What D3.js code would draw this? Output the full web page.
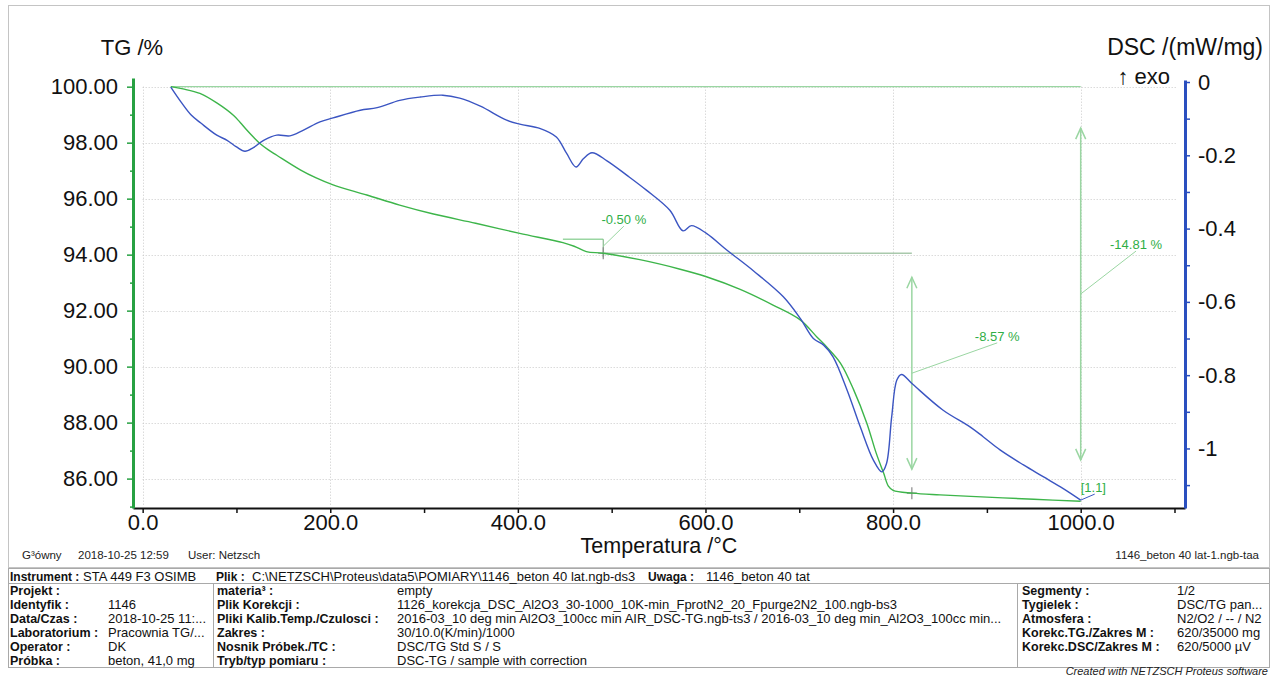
<!DOCTYPE html>
<html>
<head>
<meta charset="utf-8">
<script src="https://cdn.jsdelivr.net/npm/d3@7"></script>
<style>
  html, body { margin: 0; padding: 0; background: #fff; }
  svg { display: block; font-family: "Liberation Sans", Arial, sans-serif; }
</style>
</head>
<body>
<svg id="chart" width="1276" height="676"></svg>
<script>
// ---- TG curve (mass, %) ----
const tgTemps  = [30, 43, 61, 79, 97, 104, 111, 118, 125, 134, 143, 168, 185, 203, 239, 274, 310, 355, 402, 448, 460, 473, 491,
                  530, 573, 601, 637, 672, 701, 719, 729, 744, 758, 772, 782, 790, 795, 800, 821, 850, 900, 950, 1000];
const tgValues = [100.00, 99.92, 99.76, 99.42, 98.97, 98.72, 98.45, 98.20, 97.97, 97.74, 97.55, 97.03, 96.74, 96.49, 96.13, 95.77, 95.45, 95.12, 94.76, 94.43, 94.30, 94.11, 94.05,
                  93.82, 93.48, 93.21, 92.76, 92.20, 91.67, 91.05, 90.71, 90.12, 89.17, 87.98, 86.91, 86.19, 85.73, 85.58, 85.48, 85.42, 85.34, 85.26, 85.19];

// ---- DSC curve (mW/mg) ----
const dscTemps  = [30, 41, 52, 62, 79, 90, 100, 109, 118, 129, 143, 157, 171, 189, 203, 232, 250, 274, 296, 320,
                   338, 360, 388, 402, 424, 441, 452, 462, 470, 479, 495, 516, 537, 562, 576, 585, 601, 623, 651, 683,
                   701, 715, 726, 736, 751, 765, 779, 788, 793, 798.5, 804, 809, 821, 853, 882, 896, 914, 939, 960, 981, 1000];
const dscValues = [-0.014, -0.055, -0.091, -0.112, -0.145, -0.159, -0.177, -0.189, -0.179, -0.159, -0.145, -0.147, -0.132, -0.109, -0.098, -0.077, -0.070, -0.050, -0.041, -0.036,
                   -0.044, -0.066, -0.104, -0.115, -0.127, -0.150, -0.195, -0.232, -0.209, -0.193, -0.215, -0.254, -0.295, -0.350, -0.406, -0.392, -0.413, -0.459, -0.515, -0.586,
                   -0.645, -0.700, -0.718, -0.750, -0.841, -0.941, -1.032, -1.064, -1.041, -0.914, -0.813, -0.798, -0.825, -0.895, -0.941, -0.968, -1.004, -1.045, -1.077, -1.109, -1.141];

// ---- axis ticks ----
const tempTicks = [0, 100, 200, 300, 400, 500, 600, 700, 800, 900, 1000, 1100];
const tempGrid  = [0, 200, 400, 600, 800, 1000];
const tgTicks   = [85, 86, 87, 88, 89, 90, 91, 92, 93, 94, 95, 96, 97, 98, 99, 100];
const tgGrid    = [86, 88, 90, 92, 94, 96, 98, 100];
const dscTicks  = [0, -0.1, -0.2, -0.3, -0.4, -0.5, -0.6, -0.7, -0.8, -0.9, -1.0, -1.1];

// ---- mass-loss steps ----
const stepLabels = ["-0.50 %", "-8.57 %", "-14.81 %"];
const stepFrom   = [448, 491, 30];      // start of the reference line, °C
const stepAt     = [491, 820, 1000];    // where the step is evaluated, °C
const stepUpper  = [94.55, 94.05, 100.00];
const stepLower  = [94.05, 85.48, 85.19];
const stepStyle  = ["bracket", "arrow", "arrow"];
const stepLabelPos = [[513, 95.09], [911, 90.92], [1059, 94.20]]; // label anchor (°C, %)

// ---- header / info table ----
const infoRow1 = [["Instrument :", "STA 449 F3 OSIMB", 10, 83], ["Plik :", "C:\\NETZSCH\\Proteus\\data5\\POMIARY\\1146_beton 40 lat.ngb-ds3", 216, 252], ["Uwaga :", "1146_beton 40 tat", 648, 706]];
const infoCol1 = [["Projekt :", ""], ["Identyfik :", "1146"], ["Data/Czas :", "2018-10-25 11:..."], ["Laboratorium :", "Pracownia TG/..."], ["Operator :", "DK"], ["Próbka :", "beton, 41,0 mg"]];
const infoCol2 = [["materia³ :", "empty"], ["Plik Korekcji :", "1126_korekcja_DSC_Al2O3_30-1000_10K-min_FprotN2_20_Fpurge2N2_100.ngb-bs3"],
                  ["Pliki Kalib.Temp./Czulosci :", "2016-03_10 deg min Al2O3_100cc min AIR_DSC-TG.ngb-ts3 / 2016-03_10 deg min_Al2O3_100cc min..."],
                  ["Zakres :", "30/10.0(K/min)/1000"], ["Nosnik Próbek./TC :", "DSC/TG Std S / S"], ["Tryb/typ pomiaru :", "DSC-TG / sample with correction"]];
const infoCol3 = [["Segmenty :", "1/2"], ["Tygielek :", "DSC/TG pan..."], ["Atmosfera :", "N2/O2 / -- / N2"], ["Korekc.TG./Zakres M :", "620/35000 mg"], ["Korekc.DSC/Zakres M :", "620/5000 µV"]];
const footerLeft = [["G³ówny", 22], ["2018-10-25 12:59", 78], ["User: Netzsch", 188]];

const GREEN = "#3db54a", BLUE = "#3b55c2", AXIS_GREEN = "#27a142", AXIS_BLUE = "#2a4fbf";
const NOTE_GREEN = "#2fae46", PALE_GREEN = "#9ad6a2";

const svg = d3.select("#chart");
svg.append("rect").attr("width", 1276).attr("height", 676).attr("fill", "#fff");

// outer frame of the plot page
svg.append("rect").attr("x", 8.5).attr("y", 5.5).attr("width", 1261).attr("height", 562)
  .attr("fill", "none").attr("stroke", "#c4c4c4");

const x = d3.scaleLinear().domain([-10.3, 1111.2]).range([133, 1185]);
const yTG = d3.scaleLinear().domain([84.95, 100.31]).range([508, 78]);
const yDSC = d3.scaleLinear().domain([-1.1625, 0.0055]).range([508, 80]);

// grid
const grid = svg.append("g").attr("stroke", "#c9c9c9").attr("stroke-dasharray", "1,2").attr("stroke-width", 1);
grid.selectAll("line.h").data(tgGrid).join("line")
  .attr("x1", x(0)).attr("x2", x(1103))
  .attr("y1", d => Math.round(yTG(d)) + 0.5).attr("y2", d => Math.round(yTG(d)) + 0.5);
grid.selectAll("line.v").data(tempGrid).join("line")
  .attr("x1", d => Math.round(x(d)) + 0.5).attr("x2", d => Math.round(x(d)) + 0.5)
  .attr("y1", yTG(100)).attr("y2", 505);

// step reference lines and arrows
const notes = svg.append("g");
function arrowHead(g, px, py, dir) {
  g.append("path")
    .attr("d", `M${px - 5},${py - dir * 11} L${px},${py} L${px + 5},${py - dir * 11}`)
    .attr("fill", "none").attr("stroke", PALE_GREEN).attr("stroke-width", 1.5);
}
function cross(g, px, py) {
  g.append("path").attr("d", `M${px - 5},${py} H${px + 5} M${px},${py - 6} V${py + 6}`)
    .attr("stroke", "#8a8a8a").attr("stroke-width", 1.2);
}
stepLabels.forEach((lab, i) => {
  const xa = x(stepAt[i]);
  notes.append("line")
    .attr("x1", x(stepFrom[i])).attr("x2", xa)
    .attr("y1", yTG(stepUpper[i])).attr("y2", yTG(stepUpper[i]))
    .attr("stroke", i === 1 ? "#a9c9ac" : PALE_GREEN).attr("stroke-width", 1.3);
  if (stepStyle[i] === "bracket") {
    notes.append("line").attr("x1", xa).attr("x2", xa)
      .attr("y1", yTG(stepUpper[i])).attr("y2", yTG(stepLower[i]) + 4)
      .attr("stroke", "#6fae78").attr("stroke-width", 1);
  } else {
    const d = stepUpper[i] - stepLower[i];
    const top = yTG(stepUpper[i] - 0.1 * d), bot = yTG(stepLower[i] + 0.1 * d);
    notes.append("line").attr("x1", xa).attr("x2", xa).attr("y1", top).attr("y2", bot)
      .attr("stroke", PALE_GREEN).attr("stroke-width", 1.5);
    arrowHead(notes, xa, top, -1);
    arrowHead(notes, xa, bot, 1);
  }
  if (i < 2) cross(notes, xa, yTG(stepLower[i]));
  // leader from the middle of the step to the label
  const [lt, lv] = stepLabelPos[i];
  notes.append("line")
    .attr("x1", xa).attr("y1", yTG((stepUpper[i] + stepLower[i]) / 2))
    .attr("x2", x(lt)).attr("y2", yTG(lv) + 2)
    .attr("stroke", PALE_GREEN).attr("stroke-width", 1);
  notes.append("text").attr("x", x(lt)).attr("y", yTG(lv))
    .attr("text-anchor", "middle").attr("font-size", 13).attr("fill", NOTE_GREEN).text(lab);
});

// curves
const tgData = tgTemps.map((t, i) => [t, tgValues[i]]);
const dscData = dscTemps.map((t, i) => [t, dscValues[i]]);
svg.append("path").datum(tgData)
  .attr("d", d3.line().x(d => x(d[0])).y(d => yTG(d[1])).curve(d3.curveCatmullRom.alpha(0.5)))
  .attr("fill", "none").attr("stroke", GREEN).attr("stroke-width", 1.4);
svg.append("path").datum(dscData)
  .attr("d", d3.line().x(d => x(d[0])).y(d => yDSC(d[1])).curve(d3.curveCatmullRom.alpha(0.5)))
  .attr("fill", "none").attr("stroke", BLUE).attr("stroke-width", 1.4);

// end-point marker
const endT = dscTemps[dscTemps.length - 1], endV = dscValues[dscValues.length - 1];
svg.append("line").attr("x1", x(endT)).attr("y1", yDSC(endV))
  .attr("x2", x(endT) + 14).attr("y2", yDSC(endV) - 6)
  .attr("stroke", BLUE).attr("stroke-width", 1);
svg.append("text").attr("x", x(endT)).attr("y", yDSC(endV) - 8)
  .attr("font-size", 13).attr("fill", NOTE_GREEN).text("[1.1]");

// axes
const fmtT = d => (d % 200 === 0 ? d.toFixed(1) : "");
const xAxis = svg.append("g").attr("transform", "translate(0,508)")
  .call(d3.axisBottom(x).tickValues(tempTicks).tickFormat(fmtT).tickSize(5).tickSizeOuter(0).tickPadding(1));
xAxis.select(".domain").attr("stroke", "#111").attr("stroke-width", 2);
xAxis.selectAll(".tick line").attr("stroke", "#111").attr("stroke-width", 1.5);
xAxis.selectAll(".tick text").attr("font-size", 22).attr("fill", "#111")
  .attr("font-family", "Liberation Sans, Arial, sans-serif");

const yAxisL = svg.append("g").attr("transform", "translate(133,0)")
  .call(d3.axisLeft(yTG).tickValues(tgTicks).tickFormat(d => (d % 2 === 0 ? d.toFixed(2) : "")).tickSize(6).tickSizeOuter(0).tickPadding(9));
yAxisL.select(".domain").attr("stroke", AXIS_GREEN).attr("stroke-width", 3);
yAxisL.selectAll(".tick line").attr("stroke", AXIS_GREEN).attr("stroke-width", 1.5)
  .attr("x2", d => (d % 2 === 0 ? -6 : -3));
yAxisL.selectAll(".tick text").attr("font-size", 22).attr("fill", "#111")
  .attr("font-family", "Liberation Sans, Arial, sans-serif");

const yAxisR = svg.append("g").attr("transform", "translate(1185,0)")
  .call(d3.axisRight(yDSC).tickValues(dscTicks)
    .tickFormat(d => { const k = Math.round(d * 10); return k % 2 === 0 ? (k === 0 ? "0" : k === -10 ? "-1" : d.toFixed(1)) : ""; })
    .tickSize(5).tickSizeOuter(0).tickPadding(8));
yAxisR.select(".domain").attr("stroke", AXIS_BLUE).attr("stroke-width", 3);
yAxisR.selectAll(".tick line").attr("stroke", AXIS_BLUE).attr("stroke-width", 1.5);
yAxisR.selectAll(".tick text").attr("font-size", 22).attr("fill", "#111")
  .attr("font-family", "Liberation Sans, Arial, sans-serif");

// axis titles
svg.append("text").attr("x", 132).attr("y", 55).attr("text-anchor", "middle").attr("font-size", 22).attr("fill", "#111").text("TG /%");
svg.append("text").attr("x", 1263).attr("y", 55).attr("text-anchor", "end").attr("font-size", 23).attr("fill", "#111").text("DSC /(mW/mg)");
svg.append("text").attr("x", 1170).attr("y", 84).attr("text-anchor", "end").attr("font-size", 22).attr("fill", "#111").text("↑ exo");
svg.append("text").attr("x", 659).attr("y", 553).attr("text-anchor", "middle").attr("font-size", 21.5).attr("fill", "#111").text("Temperatura /°C");

// footer of the plot page
footerLeft.forEach(([t, fx]) => svg.append("text").attr("x", fx).attr("y", 559).attr("font-size", 11.5).attr("fill", "#222").text(t));
svg.append("text").attr("x", 1259).attr("y", 559).attr("text-anchor", "end").attr("font-size", 11.5).attr("fill", "#222")
  .text("1146_beton 40 lat-1.ngb-taa");

// info table
const tb = svg.append("g").attr("font-size", 13).attr("fill", "#111");
tb.append("rect").attr("x", 8.5).attr("y", 568.5).attr("width", 1261).attr("height", 99)
  .attr("fill", "none").attr("stroke", "#a9a9a9");
tb.append("line").attr("x1", 8.5).attr("x2", 1269.5).attr("y1", 583.5).attr("y2", 583.5).attr("stroke", "#a9a9a9");
[213.5, 1017.5].forEach(xx => tb.append("line").attr("x1", xx).attr("x2", xx).attr("y1", 583.5).attr("y2", 667.5).attr("stroke", "#a9a9a9"));

infoRow1.forEach(([k, v, kx, vx]) => {
  tb.append("text").attr("x", kx).attr("y", 580.5).attr("font-weight", "bold").attr("font-size", 12).text(k);
  tb.append("text").attr("x", vx).attr("y", 580.5).text(v);
});
const rowY = [594.5, 608.5, 622.5, 636.5, 650.5, 664.5];
function column(rows, lx, vx) {
  rows.forEach(([k, v], i) => {
    tb.append("text").attr("x", lx).attr("y", rowY[i]).attr("font-weight", "bold").attr("font-size", 12.5).text(k);
    tb.append("text").attr("x", vx).attr("y", rowY[i]).text(v);
  });
}
column(infoCol1, 10, 108);
column(infoCol2, 217, 397);
column(infoCol3, 1022, 1177);

svg.append("text").attr("x", 1268).attr("y", 675).attr("text-anchor", "end").attr("font-size", 11)
  .attr("font-style", "italic").attr("fill", "#222").text("Created with NETZSCH Proteus software");
</script>
</body>
</html>
